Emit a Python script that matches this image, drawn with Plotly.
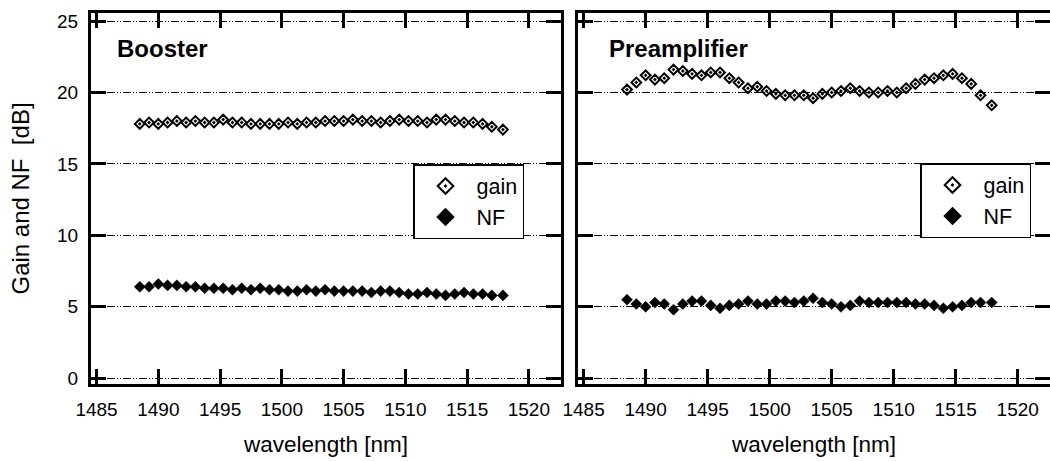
import plotly.graph_objects as go
from plotly.subplots import make_subplots

wavelength = [1488.5, 1489.25, 1490.0, 1490.75, 1491.5, 1492.25, 1493.0, 1493.75, 1494.5, 1495.25,
              1496.0, 1496.75, 1497.5, 1498.25, 1499.0, 1499.75, 1500.5, 1501.25, 1502.0, 1502.75,
              1503.5, 1504.25, 1505.0, 1505.75, 1506.5, 1507.25, 1508.0, 1508.75, 1509.5, 1510.25,
              1511.0, 1511.75, 1512.5, 1513.25, 1514.0, 1514.75, 1515.5, 1516.25, 1517.0, 1517.9]

booster_gain = [17.8, 17.9, 17.8, 17.9, 18.0, 17.9, 18.0, 17.9, 17.9, 18.1,
                17.9, 17.9, 17.8, 17.8, 17.8, 17.8, 17.9, 17.8, 17.9, 17.9,
                18.0, 18.0, 18.0, 18.1, 18.0, 18.0, 17.9, 18.0, 18.1, 18.0,
                18.0, 17.9, 18.1, 18.1, 18.0, 17.9, 17.9, 17.8, 17.6, 17.4]
booster_nf = [6.4, 6.4, 6.6, 6.5, 6.5, 6.4, 6.4, 6.3, 6.3, 6.3,
              6.2, 6.3, 6.2, 6.3, 6.2, 6.2, 6.1, 6.1, 6.2, 6.1,
              6.2, 6.1, 6.1, 6.1, 6.1, 6.0, 6.1, 6.1, 6.0, 5.9,
              5.9, 6.0, 5.9, 5.8, 5.9, 6.0, 5.9, 5.9, 5.8, 5.8]

pre_gain = [20.2, 20.7, 21.2, 20.9, 21.0, 21.6, 21.5, 21.3, 21.2, 21.4,
            21.4, 21.0, 20.7, 20.3, 20.4, 20.1, 19.9, 19.8, 19.8, 19.8,
            19.6, 19.9, 20.0, 20.1, 20.3, 20.1, 20.0, 20.0, 20.1, 20.0,
            20.3, 20.6, 20.9, 21.0, 21.2, 21.3, 21.0, 20.6, 19.8, 19.1]
pre_nf = [5.5, 5.2, 5.0, 5.3, 5.2, 4.8, 5.2, 5.4, 5.4, 5.1,
          4.9, 5.1, 5.2, 5.4, 5.2, 5.2, 5.4, 5.4, 5.3, 5.4,
          5.6, 5.3, 5.2, 5.0, 5.1, 5.4, 5.3, 5.3, 5.3, 5.3,
          5.3, 5.2, 5.2, 5.1, 4.9, 5.0, 5.1, 5.3, 5.3, 5.3]

panel_titles = ["Booster", "Preamplifier"]
x_ticks = [1485, 1490, 1495, 1500, 1505, 1510, 1515, 1520]
y_ticks = [0, 5, 10, 15, 20, 25]

FONT = "Liberation Sans, Arial, sans-serif"

fig = make_subplots(rows=1, cols=2, horizontal_spacing=0.0)

for i, (g, nf) in enumerate([(booster_gain, booster_nf), (pre_gain, pre_nf)]):
    leg = "legend" if i == 0 else "legend2"
    fig.add_trace(go.Scatter(x=wavelength, y=g, mode="markers", name="gain",
                             marker=dict(symbol="diamond-open-dot", size=7.5, color="black",
                                         line=dict(color="black", width=2)),
                             legend=leg), row=1, col=i + 1)
    fig.add_trace(go.Scatter(x=wavelength, y=nf, mode="markers", name="NF",
                             marker=dict(symbol="diamond", size=8.5, color="black",
                                         line=dict(color="black", width=0.5)),
                             legend=leg), row=1, col=i + 1)

W, H = 1050, 461
L, R, T, B = 91, 0, 13, 77
pw = W - L - R
ph = H - T - B
d1 = [0, (561 - L) / pw]
d2 = [(578 - L) / pw, 1]

axis_common = dict(showline=True, linecolor="black", linewidth=3, mirror="ticks",
                   ticks="inside", ticklen=15, tickwidth=3, tickcolor="black",
                   tickfont=dict(family=FONT, size=19, color="black"),
                   zeroline=False, automargin=False)

fig.update_xaxes(range=[1484.55, 1522.6], tickvals=x_ticks, showgrid=False,
                 title=dict(text="wavelength [nm]", font=dict(family=FONT, size=22.5, color="black"),
                            standoff=18),
                 ticklabelstandoff=6, **axis_common)
fig.update_xaxes(domain=d1, row=1, col=1)
fig.update_xaxes(domain=d2, row=1, col=2)

fig.update_yaxes(range=[-0.4, 25.56], tickvals=y_ticks, showgrid=True, gridcolor="black",
                 gridwidth=1, griddash="8px,2px,1px,2px,1px,2px", **axis_common)
fig.update_yaxes(title=dict(text="Gain and NF&nbsp;&nbsp;[dB]",
                            font=dict(family=FONT, size=24, color="black"), standoff=21),
                 ticklabelstandoff=6, row=1, col=1)
fig.update_yaxes(showticklabels=False, row=1, col=2)

ann_pos = [(1486.5, 23.1), (1486.85, 23.1)]
for i, t in enumerate(panel_titles):
    fig.add_annotation(text="<b>%s</b>" % t, x=ann_pos[i][0], y=ann_pos[i][1],
                       xref="x" if i == 0 else "x2", yref="y" if i == 0 else "y2",
                       xanchor="left", yanchor="middle", showarrow=False,
                       font=dict(family=FONT, size=24, color="black"))

legend_common = dict(bgcolor="white", bordercolor="black", borderwidth=1.5,
                     font=dict(family=FONT, size=21.5, color="black"),
                     itemsizing="constant", xanchor="left", yanchor="top",
                     itemwidth=52, tracegroupgap=0)
fig.update_layout(
    width=W, height=H,
    margin=dict(l=L, r=R, t=T, b=B, autoexpand=False),
    paper_bgcolor="white", plot_bgcolor="white",
    showlegend=True,
    legend=dict(x=(413 - L) / pw, y=(T + ph - 164) / ph, **legend_common),
    legend2=dict(x=(920 - L) / pw, y=(T + ph - 163) / ph, **legend_common),
    font=dict(family=FONT, color="black"),
)

fig.write_html("out.html", config={"displayModeBar": False},
               post_script="document.body.style.margin='0px';")
